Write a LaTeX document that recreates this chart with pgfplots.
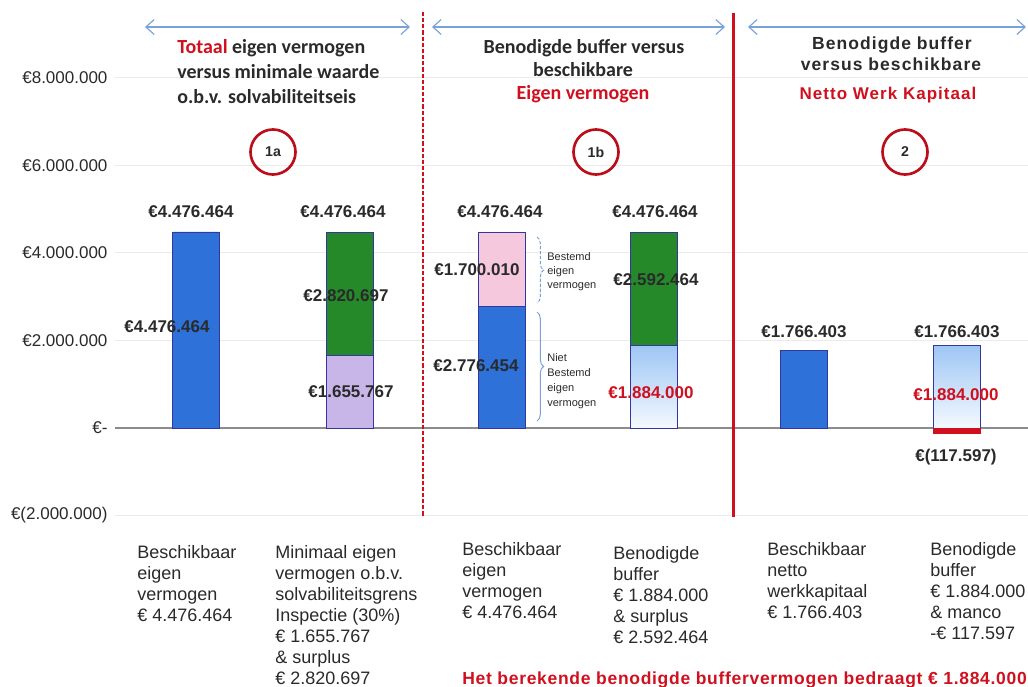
\documentclass[border=0pt]{standalone}
\usepackage{fontspec}
\setmainfont{Liberation Sans}
\newfontfamily\calib{Carlito}
\newfontfamily\arsp[LetterSpace=6]{Liberation Sans}
\newfontfamily\arspb[LetterSpace=4]{Liberation Sans}
\usepackage{pgfplots}
\pgfplotsset{compat=1.18}
\usetikzlibrary{decorations.pathreplacing,arrows.meta}

\definecolor{barblue}{HTML}{2E71D8}
\definecolor{bardark}{HTML}{3535A0}
\definecolor{bargreen}{HTML}{25892A}
\definecolor{barlav}{HTML}{C9B6E8}
\definecolor{barpink}{HTML}{F6C8DE}
\definecolor{gradtop}{HTML}{9EC6F4}
\definecolor{gradbot}{HTML}{F4F9FF}
\definecolor{myred}{HTML}{D0101E}
\definecolor{txt}{HTML}{2A2A2A}
\definecolor{arrowblue}{HTML}{7AA2DA}
\definecolor{gridgray}{HTML}{EBEBEB}
\definecolor{zerogray}{HTML}{8C8C8C}

\pgfplotsset{mybar/.style={ybar, bar width=47, bar shift=0pt, draw=bardark, line width=0.5pt}}

\newcommand\vl{\fontsize{10.2}{12}\selectfont\bfseries}

\begin{document}
\begin{tikzpicture}
\begin{axis}[
  at={(69pt,-412.2pt)}, anchor=south west,
  scale only axis, width=547.8pt, height=412.2pt,
  xmin=115, xmax=1028, ymin=-5913242, ymax=9771689,
  axis line style={draw=none}, xtick=\empty,
  scaled y ticks=false,
  ytick={-2000000,0,2000000,4000000,6000000,8000000},
  yticklabels={€(2.000.000),€-,€2.000.000,€4.000.000,€6.000.000,€8.000.000},
  yticklabel style={font=\fontsize{10.2}{12}\selectfont, text=txt, xshift=-1pt},
  major tick length=0pt,
  ymajorgrids, grid style={gridgray, line width=0.8pt},
  extra y ticks={0}, extra y tick labels={},
  extra y tick style={grid style={zerogray, line width=1.2pt}},
  clip=false,
]
% 1a
\addplot[mybar, fill=barblue] coordinates {(196,4476464) (803.7,1766403)};
\addplot[mybar, fill=bargreen] coordinates {(350,4476464)};
\addplot[mybar, fill=barlav] coordinates {(350,1655767)};
% 1b
\addplot[mybar, fill=barpink] coordinates {(502,4476464)};
\addplot[mybar, fill=barblue] coordinates {(502,2776454)};
\addplot[mybar, fill=bargreen] coordinates {(654,4476464)};
\addplot[mybar, top color=gradtop, bottom color=gradbot] coordinates {(654,1884000)};
% 2
\addplot[mybar, top color=gradtop, bottom color=gradbot] coordinates {(957,1884000)};
\addplot[mybar, fill=myred, draw=myred] coordinates {(957,-117597)};
\end{axis}

\begin{scope}[x=0.6pt, y=-0.6pt]
% separators and arrows
\draw[myred, line width=1.5pt, dash pattern=on 2.5pt off 1.2pt] (423,12) -- (423,517);
\draw[myred, line width=1.8pt] (733,13) -- (733,517);
\foreach \a/\b in {145/410, 432/725, 748/1026}
  \draw[arrowblue, line width=0.7pt, {Straight Barb[length=5pt,width=9pt]}-{Straight Barb[length=5pt,width=9pt]}] (\a,27) -- (\b,27);

% titles
\begin{scope}[every node/.style={inner sep=0, text=txt}]
\node[anchor=base west, font=\calib\bfseries\fontsize{12}{14}\selectfont] at (177,53.5) {\textcolor{myred}{Totaal} eigen vermogen};
\node[anchor=base west, font=\calib\bfseries\fontsize{12}{14}\selectfont] at (177,79) {versus minimale waarde};
\node[anchor=base west, font=\calib\bfseries\fontsize{12}{14}\selectfont] at (177,103.5) {o.b.v. solvabiliteitseis};
\node[anchor=base, font=\calib\bfseries\fontsize{12}{14}\selectfont] at (584,53.5) {Benodigde buffer versus};
\node[anchor=base, font=\calib\bfseries\fontsize{12}{14}\selectfont] at (583,77) {beschikbare};
\node[anchor=base, font=\calib\bfseries\fontsize{12}{14}\selectfont, text=myred] at (583,100) {Eigen vermogen};
\node[anchor=base, font=\arsp\bfseries\fontsize{10.5}{12}\selectfont] at (892,50) {Benodigde buffer};
\node[anchor=base, font=\arsp\bfseries\fontsize{10.5}{12}\selectfont] at (891,71) {versus beschikbare};
\node[anchor=base, font=\arsp\bfseries\fontsize{10.2}{12}\selectfont, text=myred] at (888,100) {Netto Werk Kapitaal};
\end{scope}

% circles
\foreach \cx/\t in {273/1a, 596/1b, 905/2} {
  \draw[myred!90!black, line width=1.6pt] (\cx,152) circle (22.5);
  \node[font=\fontsize{8.5}{10}\selectfont\bfseries, text=txt] at (\cx,152) {\t};
}

% value labels
\begin{scope}[every node/.style={inner sep=0, text=txt, font=\vl}]
\node at (191,212) {€4.476.464};
\node at (343,212) {€4.476.464};
\node at (500,212) {€4.476.464};
\node at (655,212) {€4.476.464};
\node at (167,327) {€4.476.464};
\node at (346,296) {€2.820.697};
\node at (351,392) {€1.655.767};
\node at (477,270) {€1.700.010};
\node at (476,366) {€2.776.454};
\node at (656,280) {€2.592.464};
\node[text=myred] at (651,393) {€1.884.000};
\node at (804,332) {€1.766.403};
\node at (957,332) {€1.766.403};
\node[text=myred] at (956,395) {€1.884.000};
\node at (956,457) {€(117.597)};
\end{scope}

% braces
\draw[arrowblue, line width=0.6pt, dash pattern=on 2pt off 1pt, decorate, decoration={brace, amplitude=4pt}] (537,237) -- (537,303);
\draw[arrowblue, line width=0.6pt, decorate, decoration={brace, amplitude=4pt}] (537,312) -- (537,421);
\node[anchor=north west, inner sep=0, align=left, text=txt, font=\fontsize{6.6}{8.4}\selectfont] at (547,252) {Bestemd\\eigen\\vermogen};
\node[anchor=north west, inner sep=0, align=left, text=txt, font=\fontsize{6.6}{9}\selectfont] at (547,353) {Niet\\Bestemd\\eigen\\vermogen};

% category labels
\begin{scope}[every node/.style={anchor=north west, inner sep=0, align=left, text=txt, font=\fontsize{10.8}{12.6}\selectfont}]
\node at (137,545) {Beschikbaar\\eigen\\vermogen\\€ 4.476.464};
\node at (275,545) {Minimaal eigen\\vermogen  o.b.v.\\solvabiliteitsgrens\\Inspectie (30\%)\\€ 1.655.767\\\& surplus\\€ 2.820.697};
\node at (462,542) {Beschikbaar\\eigen\\vermogen\\€ 4.476.464};
\node at (613,546) {Benodigde\\buffer\\€ 1.884.000\\\& surplus\\€ 2.592.464};
\node at (767,542) {Beschikbaar\\netto\\werkkapitaal\\€ 1.766.403};
\node at (930,542) {Benodigde\\buffer\\€ 1.884.000\\\& manco\\-€ 117.597};
\end{scope}
\node[anchor=base west, inner sep=0, text=myred, font=\arspb\fontsize{10.5}{12}\selectfont\bfseries] at (462,684) {Het berekende benodigde buffervermogen bedraagt € 1.884.000};

\pgfresetboundingbox
\path[use as bounding box] (0,0) rectangle (1028,687);
\end{scope}
\end{tikzpicture}
\end{document}
